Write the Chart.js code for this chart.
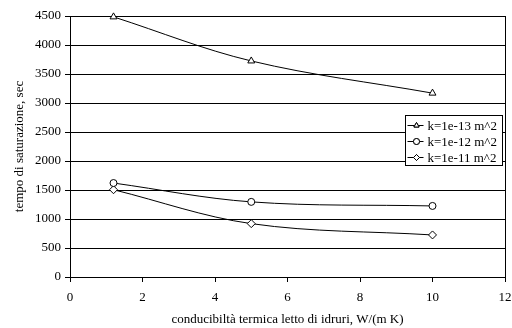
<!DOCTYPE html>
<html>
<head>
<meta charset="utf-8">
<script src="https://cdn.jsdelivr.net/npm/chart.js@4"></script>
<style>
  html, body { margin: 0; padding: 0; background: #fff; }
  #wrap { width: 512px; height: 328px; }
</style>
</head>
<body>
<div id="wrap"><canvas id="chart" width="512" height="328"></canvas></div>
<script>
// ================= Data =================
const conductivity = [1.2, 5, 10];
const time_k13 = [4485, 3725, 3170];
const time_k12 = [1620, 1295, 1225];
const time_k11 = [1505, 920, 725];
const seriesLabels = ['k=1e-13 m^2', 'k=1e-12 m^2', 'k=1e-11 m^2'];
const seriesMarkers = ['triangle', 'circle', 'rectRot'];

const FONT = '"Liberation Serif", "Times New Roman", serif';

function toPoints(xs, ys) {
    return xs.map((x, i) => ({ x: x, y: ys[i] }));
}

function makeDataset(label, values, marker) {
    return {
        label: label,
        data: toPoints(conductivity, values),
        borderColor: '#000',
        borderWidth: 1,
        backgroundColor: '#fff',
        pointStyle: marker,
        pointRadius: marker === 'circle' ? 3.5 : 4,
        pointBorderColor: '#000',
        pointBackgroundColor: '#fff',
        pointBorderWidth: 1,
        tension: 0.35,
        fill: false,
        clip: false
    };
}

// ================= Plugins =================
// right frame edge of the plot area
const frame = {
    id: 'frame',
    afterDatasetsDraw(chart) {
        const a = chart.chartArea, ctx = chart.ctx;
        ctx.save();
        ctx.strokeStyle = '#000';
        ctx.lineWidth = 1;
        ctx.beginPath();
        ctx.moveTo(Math.round(a.right) + 0.5, a.top);
        ctx.lineTo(Math.round(a.right) + 0.5, a.bottom);
        ctx.stroke();
        ctx.restore();
    }
};

// boxed legend inside the plot area, Excel style
const boxLegend = {
    id: 'boxLegend',
    afterDraw(chart) {
        const ctx = chart.ctx;
        const x0 = 405.5, y0 = 115.5, w = 97, rowH = 16;
        const sets = chart.data.datasets;
        ctx.save();
        ctx.fillStyle = '#fff';
        ctx.fillRect(x0, y0, w, rowH * sets.length + 2);
        ctx.strokeStyle = '#000';
        ctx.lineWidth = 1;
        ctx.strokeRect(x0, y0, w, rowH * sets.length + 2);
        ctx.font = '13px ' + FONT;
        ctx.textBaseline = 'middle';
        sets.forEach((ds, i) => {
            const cy = Math.round(y0 + 9 + i * rowH) + 0.5;
            ctx.beginPath();
            ctx.moveTo(x0 + 2, cy);
            ctx.lineTo(x0 + 18, cy);
            ctx.stroke();
            ctx.fillStyle = '#fff';
            Chart.helpers.drawPoint(ctx, { pointStyle: ds.pointStyle, radius: 3, borderWidth: 1 }, x0 + 11, cy);
            ctx.fill();
            ctx.stroke();
            ctx.fillStyle = '#000';
            ctx.fillText(ds.label, x0 + 22, cy + 1);
        });
        ctx.restore();
    }
};

// ================= Chart =================
const ctx = document.getElementById('chart').getContext('2d');
new Chart(ctx, {
    type: 'line',
    data: {
        datasets: [
            makeDataset(seriesLabels[0], time_k13, seriesMarkers[0]),
            makeDataset(seriesLabels[1], time_k12, seriesMarkers[1]),
            makeDataset(seriesLabels[2], time_k11, seriesMarkers[2])
        ]
    },
    options: {
        responsive: false,
        animation: false,
        layout: { padding: { top: 16, right: 7, left: 0, bottom: 0 } },
        plugins: {
            legend: { display: false },
            tooltip: { enabled: false }
        },
        scales: {
            x: {
                type: 'linear',
                min: 0, max: 12,
                ticks: { stepSize: 2, color: '#000', font: { family: FONT, size: 13 }, padding: 8,
                         callback: v => String(v) },
                grid: { drawOnChartArea: false, drawTicks: true, tickLength: 5, color: '#000' },
                border: { color: '#000', width: 1 },
                title: {
                    display: true,
                    text: 'conducibiltà termica letto di idruri, W/(m K)',
                    color: '#000',
                    font: { family: FONT, size: 13 },
                    padding: { top: 6, bottom: 1 }
                },
                afterFit(scale) {
                    scale.height = 51;
                    scale.paddingRight = 0;
                    scale.paddingLeft = 0;
                }
            },
            y: {
                type: 'linear',
                min: 0, max: 4500,
                ticks: { stepSize: 500, color: '#000', font: { family: FONT, size: 13 }, padding: 4,
                         callback: v => String(v) },
                grid: { color: '#000', lineWidth: 1, tickLength: 5 },
                border: { color: '#000', width: 1 },
                title: {
                    display: true,
                    text: 'tempo di saturazione, sec',
                    color: '#000',
                    font: { family: FONT, size: 13 },
                    padding: { top: 12, bottom: 4 }
                },
                afterFit(scale) {
                    scale.width = 70;
                    scale.paddingTop = 0;
                }
            }
        }
    },
    plugins: [frame, boxLegend]
});
</script>
</body>
</html>
